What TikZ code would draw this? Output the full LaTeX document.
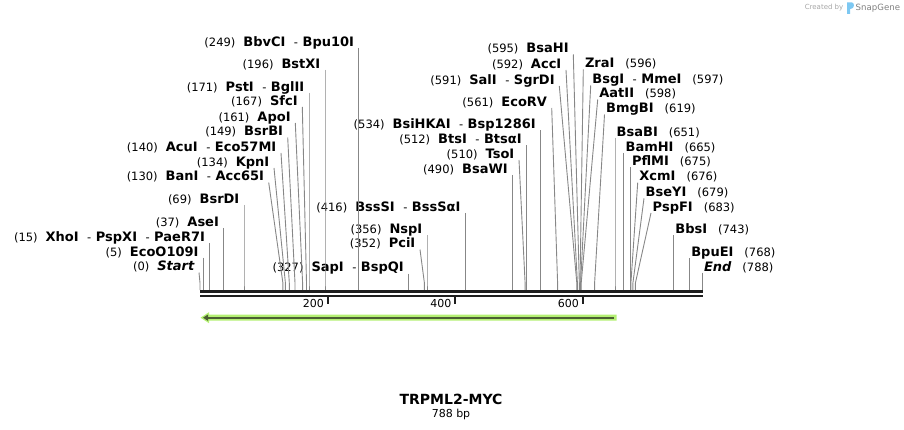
\documentclass[tikz,border=0pt]{standalone}
\usepackage{fontspec}
\setmainfont{DejaVu Sans}
\usetikzlibrary{arrows.meta}
\definecolor{cutgray}{RGB}{135,135,135}
\definecolor{seqblack}{RGB}{30,30,30}
\definecolor{featglow}{RGB}{180,240,115}
\definecolor{featline}{RGB}{75,95,50}
\definecolor{snapblue}{RGB}{125,200,242}
\newcommand{\enz}[1]{{\fontsize{13pt}{15pt}\selectfont\bfseries #1}}
\newcommand{\cutat}[1]{{\fontsize{11.5pt}{13pt}\selectfont(#1)}}
\newcommand{\enzsep}{\hspace{8.5pt}{\fontsize{11.5pt}{13pt}\selectfont-}\hspace{4.5pt}}
\tikzset{
  cutline/.style={draw=cutgray, line width=0.9pt},
  lblleft/.style={anchor=south east, inner xsep=4.5pt, inner ysep=0pt, text depth=1.5pt},
  lblright/.style={anchor=south west, inner xsep=1.5pt, inner ysep=0pt, text depth=1.5pt},
  rulerfont/.style={font=\fontsize{11pt}{13pt}\selectfont}
}
\begin{document}
\begin{tikzpicture}[x=1pt,y=-1pt]
\useasboundingbox (0,0) rectangle (904,430);

% cut sites on the sequence (x = 200 + 0.6375 bp)
\coordinate (sStart) at (200.0,290);
\coordinate (sEcoO) at (203.2,290);
\coordinate (sXhoI) at (209.6,290);
\coordinate (sAseI) at (223.6,290);
\coordinate (sBsrDI) at (244.0,290);
\coordinate (sBanI) at (282.9,290);
\coordinate (sKpnI) at (285.4,290);
\coordinate (sAcuI) at (289.3,290);
\coordinate (sBsrBI) at (295.0,290);
\coordinate (sApoI) at (302.6,290);
\coordinate (sSfcI) at (306.5,290);
\coordinate (sPstI) at (309.0,290);
\coordinate (sBstXI) at (325.0,290);
\coordinate (sBbvCI) at (358.7,290);
\coordinate (sSapI) at (408.5,290);
\coordinate (sPciI) at (424.4,290);
\coordinate (sNspI) at (427.0,290);
\coordinate (sBssSI) at (465.2,290);
\coordinate (sBsaWI) at (512.4,290);
\coordinate (sTsoI) at (525.1,290);
\coordinate (sBtsI) at (526.4,290);
\coordinate (sBsiHKAI) at (540.4,290);
\coordinate (sEcoRV) at (557.6,290);
\coordinate (sSalI) at (576.8,290);
\coordinate (sAccI) at (577.4,290);
\coordinate (sBsaHI) at (579.3,290);
\coordinate (sZraI) at (580.0,290);
\coordinate (sBsgI) at (580.6,290);
\coordinate (sAatII) at (581.2,290);
\coordinate (sBmgBI) at (594.6,290);
\coordinate (sBsaBI) at (615.0,290);
\coordinate (sBamHI) at (623.9,290);
\coordinate (sPflMI) at (630.3,290);
\coordinate (sXcmI) at (630.9,290);
\coordinate (sBseYI) at (632.9,290);
\coordinate (sPspFI) at (635.4,290);
\coordinate (sBbsI) at (673.7,290);
\coordinate (sBpuEI) at (689.6,290);
\coordinate (sEnd) at (702.3,290);

% labels left of their line
\node[lblleft] (lBbvCI) at (358.7,48) {\cutat{249}\hspace{8pt}\enz{BbvCI}\enzsep\enz{Bpu10I}};
\node[lblleft] (lBstXI) at (325.0,70) {\cutat{196}\hspace{8pt}\enz{BstXI}};
\node[lblleft] (lPstI) at (309.0,93) {\cutat{171}\hspace{8pt}\enz{PstI}\enzsep\enz{BglII}};
\node[lblleft] (lSfcI) at (302.3,107) {\cutat{167}\hspace{8pt}\enz{SfcI}};
\node[lblleft] (lApoI) at (295.3,123) {\cutat{161}\hspace{8pt}\enz{ApoI}};
\node[lblleft] (lBsrBI) at (287.7,137.5) {\cutat{149}\hspace{8pt}\enz{BsrBI}};
\node[lblleft] (lAcuI) at (281.0,153) {\cutat{140}\hspace{8pt}\enz{AcuI}\enzsep\enz{Eco57MI}};
\node[lblleft] (lKpnI) at (274.0,168) {\cutat{134}\hspace{8pt}\enz{KpnI}};
\node[lblleft] (lBanI) at (268.7,182.5) {\cutat{130}\hspace{8pt}\enz{BanI}\enzsep\enz{Acc65I}};
\node[lblleft] (lBsrDI) at (244.0,205) {\cutat{69}\hspace{8pt}\enz{BsrDI}};
\node[lblleft] (lAseI) at (223.6,228) {\cutat{37}\hspace{8pt}\enz{AseI}};
\node[lblleft] (lXhoI) at (209.6,243.5) {\cutat{15}\hspace{8pt}\enz{XhoI}\enzsep\enz{PspXI}\enzsep\enz{PaeR7I}};
\node[lblleft] (lEcoO) at (203.2,257.7) {\cutat{5}\hspace{8pt}\enz{EcoO109I}};
\node[lblleft] (lStart) at (199.0,272.5) {\cutat{0}\hspace{8pt}\enz{\itshape Start}};
\node[lblleft] (lSapI) at (408.5,273.7) {\cutat{327}\hspace{8pt}\enz{SapI}\enzsep\enz{BspQI}};
\node[lblleft] (lPciI) at (420.0,249.5) {\cutat{352}\hspace{8pt}\enz{PciI}};
\node[lblleft] (lNspI) at (427.0,235.5) {\cutat{356}\hspace{8pt}\enz{NspI}};
\node[lblleft] (lBssSI) at (465.2,213) {\cutat{416}\hspace{8pt}\enz{BssSI}\enzsep\enz{BssSαI}};
\node[lblleft] (lBsaWI) at (512.4,175) {\cutat{490}\hspace{8pt}\enz{BsaWI}};
\node[lblleft] (lTsoI) at (519.0,160) {\cutat{510}\hspace{8pt}\enz{TsoI}};
\node[lblleft] (lBtsI) at (526.4,145.5) {\cutat{512}\hspace{8pt}\enz{BtsI}\enzsep\enz{BtsαI}};
\node[lblleft] (lBsiHKAI) at (540.4,130.5) {\cutat{534}\hspace{8pt}\enz{BsiHKAI}\enzsep\enz{Bsp1286I}};
\node[lblleft] (lEcoRV) at (551.7,108) {\cutat{561}\hspace{8pt}\enz{EcoRV}};
\node[lblleft] (lSalI) at (559.3,86) {\cutat{591}\hspace{8pt}\enz{SalI}\enzsep\enz{SgrDI}};
\node[lblleft] (lAccI) at (566.0,70) {\cutat{592}\hspace{8pt}\enz{AccI}};
\node[lblleft] (lBsaHI) at (573.3,54.5) {\cutat{595}\hspace{8pt}\enz{BsaHI}};

% labels right of their line
\node[lblright] (lZraI) at (583.3,69.5) {\enz{ZraI}\hspace{11pt}\cutat{596}};
\node[lblright] (lBsgI) at (590.7,85.5) {\enz{BsgI}\enzsep\enz{MmeI}\hspace{11pt}\cutat{597}};
\node[lblright] (lAatII) at (597.7,99.5) {\enz{AatII}\hspace{11pt}\cutat{598}};
\node[lblright] (lBmgBI) at (604.5,114.5) {\enz{BmgBI}\hspace{11pt}\cutat{619}};
\node[lblright] (lBsaBI) at (615.0,138) {\enz{BsaBI}\hspace{11pt}\cutat{651}};
\node[lblright] (lBamHI) at (623.9,153) {\enz{BamHI}\hspace{11pt}\cutat{665}};
\node[lblright] (lPflMI) at (630.3,167.5) {\enz{PflMI}\hspace{11pt}\cutat{675}};
\node[lblright] (lXcmI) at (637.7,182.7) {\enz{XcmI}\hspace{11pt}\cutat{676}};
\node[lblright] (lBseYI) at (644.0,198.3) {\enz{BseYI}\hspace{11pt}\cutat{679}};
\node[lblright] (lPspFI) at (651.0,213) {\enz{PspFI}\hspace{11pt}\cutat{683}};
\node[lblright] (lBbsI) at (673.7,235.3) {\enz{BbsI}\hspace{11pt}\cutat{743}};
\node[lblright] (lBpuEI) at (689.6,258) {\enz{BpuEI}\hspace{11pt}\cutat{768}};
\node[lblright] (lEnd) at (702.3,272.7) {\enz{\itshape End}\hspace{11pt}\cutat{788}};

% connectors
\foreach \e in {BbvCI,BstXI,PstI,SfcI,ApoI,BsrBI,AcuI,KpnI,BanI,BsrDI,AseI,XhoI,EcoO,Start,
                SapI,PciI,NspI,BssSI,BsaWI,TsoI,BtsI,BsiHKAI,EcoRV,SalI,AccI,BsaHI}
  \draw[cutline] (l\e.south east) -- ([yshift=7pt]s\e) -- (s\e);
\foreach \e in {ZraI,BsgI,AatII,BmgBI,BsaBI,BamHI,PflMI,XcmI,BseYI,PspFI,BbsI,BpuEI,End}
  \draw[cutline] (l\e.south west) -- ([yshift=7pt]s\e) -- (s\e);

% sequence
\coordinate (seqL) at (200,291.5);
\coordinate (seqR) at (703,291.5);
\draw[seqblack, line width=3pt] (seqL) -- (seqR);
\draw[seqblack, line width=2.5pt] ([yshift=-4.7pt]seqL) -- ([yshift=-4.7pt]seqR);
\foreach \t in {200,400,600} {
  \coordinate (tick\t) at ({200+0.6375*\t},297);
  \draw[seqblack, line width=2pt] (tick\t) -- ++(0,7);
  \node[rulerfont, anchor=east, inner sep=0pt] (tl\t) at ([xshift=-3.5pt,yshift=-6pt]tick\t) {\t};
}

% feature
\coordinate (featR) at (614,317.7);
\coordinate (featL) at (203,317.7);
\fill[featglow] (616.5,314.7) -- (209,314.7) -- (209,312.2) -- (200.5,317.7)
  -- (209,323.2) -- (209,320.7) -- (616.5,320.7) -- cycle;
\draw[featline, line width=2pt, -{Triangle[length=5pt,width=6pt]}] (featR) -- (featL);

% name
\node[font=\fontsize{14pt}{16pt}\selectfont\bfseries] (title) at (451,399) {TRPML2-MYC};
\node[rulerfont] (length) at (451,414) {788 bp};

% credit
\node[anchor=east, inner sep=0pt, text=black!35, font=\fontsize{7pt}{8pt}\selectfont] (credit) at (843.5,8) {Created by};
\fill[snapblue] (847,2.5) -- (852,2.5) .. controls (854.5,2.5) and (854.5,8) .. (852,8.5)
  -- (850,9) -- (850,14) -- (847,14) -- cycle;
\node[anchor=west, inner sep=0pt, text=black!50, font=\fontsize{8.6pt}{10pt}\selectfont] (brand) at (855.5,8) {SnapGene};
\end{tikzpicture}
\end{document}
